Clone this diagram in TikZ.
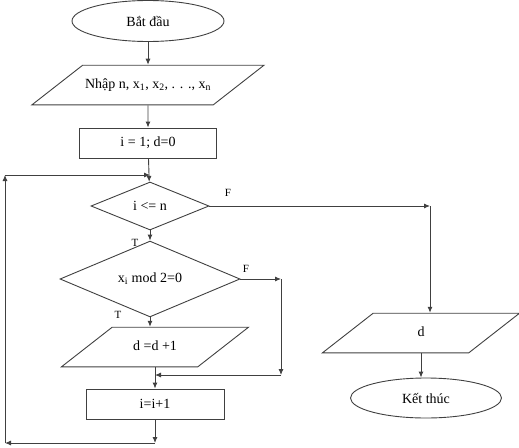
\documentclass[tikz,border=0pt]{standalone}
\usepackage{fontspec}
\setmainfont{Liberation Serif}
\usetikzlibrary{shapes.geometric,arrows.meta}

\tikzset{
  flow/.style={draw=black!75, line width=0.9pt, inner sep=0pt, font=\fontsize{14}{16}\selectfont},
  terminal/.style={flow, ellipse},
  iobox/.style={flow, trapezium, trapezium left angle=38, trapezium right angle=142, trapezium stretches body,
    text height=10pt, text depth=3pt, inner ysep=13.3pt},
  procbox/.style={flow, rectangle},
  testbox/.style={flow, diamond},
  arr/.style={draw=black!75, line width=0.9pt, -{Latex[length=6pt,width=5pt]}},
  lbl/.style={font=\fontsize{11}{13}\selectfont}
}

\begin{document}
\begin{tikzpicture}[x=1pt, y=-1pt]
                \useasboundingbox (0,0) rectangle (519,447);
                % main column
                \node [terminal, minimum width=152pt, minimum height=41pt] (start) at (148,21) {Bắt đầu};
                \node [iobox, minimum width=232pt] (input) at (148,85) {Nhập n, x\textsubscript{1}, x\textsubscript{2}, . . ., x\textsubscript{n}};
                \node [procbox, minimum width=137pt, minimum height=30pt] (init) at (148,143) {i = 1; d=0};
                \node [testbox, minimum width=118pt, minimum height=48pt] (cond) at (150,206) {i <= n};
                \node [testbox, minimum width=180pt, minimum height=48pt] (mod) at (150,279) {x\textsubscript{i} mod 2=0};
                \node [iobox, minimum width=187pt] (dd) at (155,347) {d =d +1};
                \node [procbox, minimum width=138pt, minimum height=30pt] (inc) at (155,404) {i=i+1};
                % right column
                \node [iobox, minimum width=197pt] (out) at (421,333) {d};
                \node [terminal, minimum width=151pt, minimum height=40pt] (stop) at (426,398) {Kết thúc};
                % branch labels
                \node [lbl] (f1) at (228,193) {F};
                \node [lbl] (t1) at (135,243) {T};
                \node [lbl] (f2) at (246,269) {F};
                \node [lbl] (t2) at (118,315) {T};
                % corner points
                \coordinate (top) at (150,175);
                \coordinate (lt) at (5,175);
                \coordinate (lb) at (5,443);
                \coordinate (bot) at (155,443);
                \coordinate (fr) at (430,206);
                \coordinate (mr) at (281,279);
                \coordinate (mb) at (281,375);
                % connectors
                \draw [arr] (start) -- (input);
                \draw [arr] (input) -- (init);
                \draw [arr] (init) -- (cond);
                \draw [arr] (cond) -- (mod);
                \draw [arr] (mod.south) -- (mod.south |- dd.north);
                \draw [arr] (dd.south -| inc.north) -- (inc.north);
                \draw [arr] (inc.south) -- (bot);
                \draw [arr] (bot) -- (lb);
                \draw [arr] (lb) -- (lt);
                \draw [arr] (lt) -- (top);
                \draw [arr] (cond.east) -- (fr);
                \draw [arr] (fr) -- (fr |- out.north);
                \draw [arr] (mod.east) -- (mr);
                \draw [arr] (mr) -- (mb);
                \draw [arr] (mb) -- (mb -| inc.north);
                \draw [arr] (out.south) -- (out.south |- stop.north);
            \end{tikzpicture}
\end{document}
